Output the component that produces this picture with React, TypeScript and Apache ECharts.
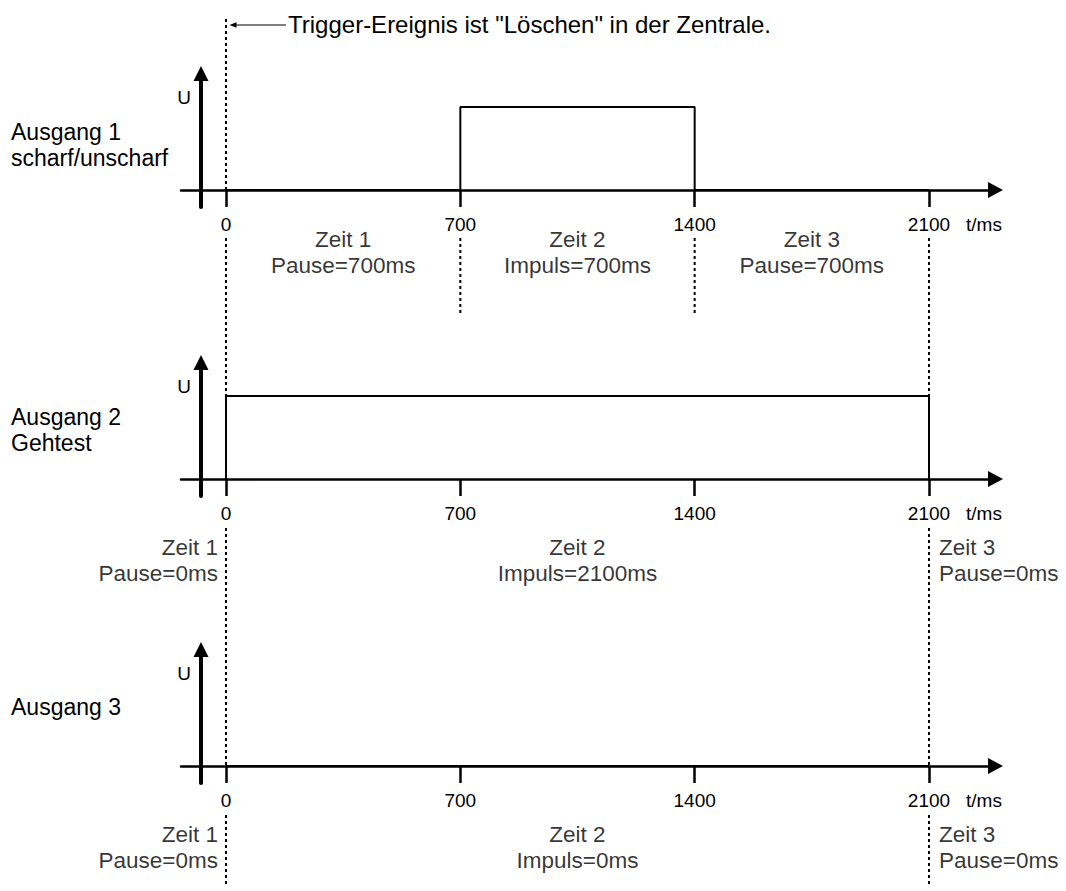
import React, { useEffect, useRef } from 'react';
import * as echarts from 'echarts';

// ---------------- data ----------------
const outputNames = ['Ausgang 1\nscharf/unscharf', 'Ausgang 2\nGehtest', 'Ausgang 3'];
const phaseNames = ['Zeit 1', 'Zeit 2', 'Zeit 3'];
const phaseKinds = ['Pause', 'Impuls', 'Pause'];
const zeit1PauseMs = [700, 0, 0];
const zeit2ImpulsMs = [700, 2100, 0];
const zeit3PauseMs = [700, 0, 0];
const tickValues = [0, 700, 1400, 2100];
const timeUnit = 't/ms';
const levelLabel = 'U';
const triggerText = 'Trigger-Ereignis ist "Löschen" in der Zentrale.';

// ---------------- layout ----------------
const W = 1066;
const H = 891;
const FONT = '"Liberation Sans", Arial, Helvetica, sans-serif';
const BASE_Y = [190, 479, 766];
const ZERO_PX = 226;
const END_PX = 929;
const AXIS_LEFT = 181;
const AXIS_RIGHT = 995.5;
const HIGH_PX = 83;
const BELOW_PX = 17;
const ABOVE_PX = 116.5;
const Y_AXIS_SHIFT = 20;
const LABEL_DY = [62, 81, 81];
const GAP_BELOW = [48, 49, 49];
const DOT_TOP = 19;
const DOT_BOTTOM = 887;
const INNER_DOT_LEN = 123;

function buildOption() {
  const T_END = tickValues[tickValues.length - 1];
  const pxPerMs = (END_PX - ZERO_PX) / T_END;
  const xMin = (AXIS_LEFT - ZERO_PX) / pxPerMs;
  const xMax = (AXIS_RIGHT - ZERO_PX) / pxPerMs;
  const gridWidth = AXIS_RIGHT - AXIS_LEFT;

  const grid: any[] = [];
  const xAxis: any[] = [];
  const yAxis: any[] = [];
  const series: any[] = [];
  const graphic: any[] = [];

  const black = '#000';

  BASE_Y.forEach((B, i) => {
    grid.push({
      left: AXIS_LEFT,
      width: gridWidth,
      top: B - ABOVE_PX,
      height: ABOVE_PX + BELOW_PX,
      containLabel: false,
      outerBoundsMode: 'none',
    });
    xAxis.push({
      gridIndex: i,
      type: 'value',
      min: xMin,
      max: xMax,
      axisLine: {
        show: true,
        onZero: true,
        symbol: ['none', 'triangle'],
        symbolSize: [16, 15],
        lineStyle: { color: black, width: 2.5 },
      },
      axisTick: {
        show: true,
        customValues: tickValues,
        length: 17,
        lineStyle: { color: black, width: 2.5 },
      },
      axisLabel: {
        show: true,
        customValues: tickValues,
        formatter: (v: number) => String(v),
        margin: 8,
        color: black,
        fontSize: 19,
        lineHeight: 19,
        fontFamily: FONT,
      },
      splitLine: { show: false },
      name: timeUnit,
      nameLocation: 'end',
      nameGap: -29.5,
      nameMoveOverlap: false,
      nameTextStyle: {
        align: 'left',
        verticalAlign: 'top',
        padding: [25, 0, 0, 0],
        fontSize: 19,
        lineHeight: 19,
        color: black,
        fontFamily: FONT,
      },
    });
    yAxis.push({
      gridIndex: i,
      type: 'value',
      min: -BELOW_PX / HIGH_PX,
      max: ABOVE_PX / HIGH_PX,
      offset: -Y_AXIS_SHIFT,
      axisLine: {
        show: true,
        onZero: false,
        symbol: ['none', 'triangle'],
        symbolSize: [15, 15],
        lineStyle: { color: black, width: 4 },
      },
      axisTick: { show: false },
      axisLabel: { show: false },
      splitLine: { show: false },
      name: levelLabel,
      nameLocation: 'end',
      nameGap: -23.5,
      nameMoveOverlap: false,
      nameTextStyle: {
        align: 'right',
        verticalAlign: 'middle',
        padding: [0, 10, 0, 0],
        fontSize: 19,
        color: black,
        fontFamily: FONT,
      },
    });

    const p = zeit1PauseMs[i];
    const imp = zeit2ImpulsMs[i];
    const hi = imp > 0 ? 1 : 0;
    series.push({
      type: 'line',
      xAxisIndex: i,
      yAxisIndex: i,
      symbol: 'none',
      silent: true,
      z: 4,
      lineStyle: { color: black, width: 2 },
      data: [
        [0, 0],
        [p, 0],
        [p, hi],
        [p + imp, hi],
        [p + imp, 0],
        [T_END, 0],
      ],
    });
  });

  // overlay grid for annotations (x in ms, y in page rows)
  const OV = BASE_Y.length;
  grid.push({ left: AXIS_LEFT, width: gridWidth, top: 0, height: H, containLabel: false, outerBoundsMode: 'none' });
  xAxis.push({ gridIndex: OV, type: 'value', min: xMin, max: xMax, show: false });
  yAxis.push({ gridIndex: OV, type: 'value', min: 0, max: H, inverse: true, show: false });

  const dotted = (t: number, y1: number, y2: number) => ({
    type: 'line',
    xAxisIndex: OV,
    yAxisIndex: OV,
    symbol: 'none',
    silent: true,
    z: 1,
    lineStyle: { color: black, width: 2, type: [3, 3], cap: 'butt' },
    data: [
      [t, y1],
      [t, y2],
    ],
  });

  // start and end lines run through all panels
  [0, T_END].forEach((t) => {
    const fromTop = t === 0;
    let start = fromTop ? DOT_TOP : BASE_Y[0] + GAP_BELOW[0];
    for (let i = fromTop ? 0 : 1; i < BASE_Y.length; i++) {
      series.push(dotted(t, start, BASE_Y[i]));
      start = BASE_Y[i] + GAP_BELOW[i];
    }
    series.push(dotted(t, start, DOT_BOTTOM));
  });

  // inner phase boundaries
  BASE_Y.forEach((B, i) => {
    const bounds = [zeit1PauseMs[i], zeit1PauseMs[i] + zeit2ImpulsMs[i]];
    bounds.forEach((t) => {
      if (t > 0 && t < T_END) {
        series.push(dotted(t, B + GAP_BELOW[i], B + INNER_DOT_LEN));
      }
    });
  });

  // phase labels
  const labelItems: any[] = [];
  BASE_Y.forEach((B, i) => {
    const durs = [zeit1PauseMs[i], zeit2ImpulsMs[i], zeit3PauseMs[i]];
    const y = B + LABEL_DY[i];
    const text = (k: number) => `${phaseNames[k]}\n${phaseKinds[k]}=${durs[k]}ms`;
    if (durs[0] > 0) {
      labelItems.push({ name: text(0), value: [durs[0] / 2, y] });
    } else {
      labelItems.push({ name: text(0), value: [0, y], label: { align: 'right', offset: [-8, 0] } });
    }
    labelItems.push({ name: text(1), value: [(durs[0] + (T_END - durs[2])) / 2, y] });
    if (durs[2] > 0) {
      labelItems.push({ name: text(2), value: [T_END - durs[2] / 2, y] });
    } else {
      labelItems.push({ name: text(2), value: [T_END, y], label: { align: 'left', offset: [10, 0] } });
    }
  });
  series.push({
    type: 'scatter',
    xAxisIndex: OV,
    yAxisIndex: OV,
    symbolSize: 1,
    silent: true,
    z: 5,
    itemStyle: { color: 'rgba(0,0,0,0)' },
    label: {
      show: true,
      position: 'inside',
      formatter: '{b}',
      color: black,
      textBorderWidth: 0,
      fontSize: 22.5,
      lineHeight: 26,
      fontFamily: FONT,
      align: 'center',
      verticalAlign: 'middle',
    },
    data: labelItems,
  });

  // trigger annotation
  graphic.push({
    type: 'text',
    x: 288,
    y: 24.5,
    style: { text: triggerText, fill: black, font: `24px ${FONT}`, align: 'left', verticalAlign: 'middle' },
  });
  graphic.push({
    type: 'line',
    shape: { x1: 233, y1: 25, x2: 286, y2: 25 },
    style: { stroke: black, lineWidth: 1.2 },
  });
  graphic.push({
    type: 'polygon',
    shape: { points: [[229.5, 25], [236.5, 22.3], [236.5, 27.7]] },
    style: { fill: black },
  });

  // output names
  const nameCenters = [145, 430, 707];
  outputNames.forEach((n, i) => {
    graphic.push({
      type: 'text',
      x: 11,
      y: nameCenters[i],
      style: { text: n, fill: black, font: `23px ${FONT}`, lineHeight: 26, align: 'left', verticalAlign: 'middle' },
    });
  });

  return {
    animation: false,
    backgroundColor: '#fff',
    textStyle: { fontFamily: FONT },
    grid,
    xAxis,
    yAxis,
    series,
    graphic,
  };
}

export default function App() {
  const ref = useRef<HTMLDivElement>(null);
  useEffect(() => {
    if (!ref.current) return;
    const chart = echarts.init(ref.current, null, { renderer: 'svg' });
    chart.setOption(buildOption() as any);
    return () => chart.dispose();
  }, []);
  return (
    <div
      ref={ref}
      style={{ position: 'absolute', left: 0, top: 0, width: W, height: H, background: '#fff' }}
    />
  );
}
